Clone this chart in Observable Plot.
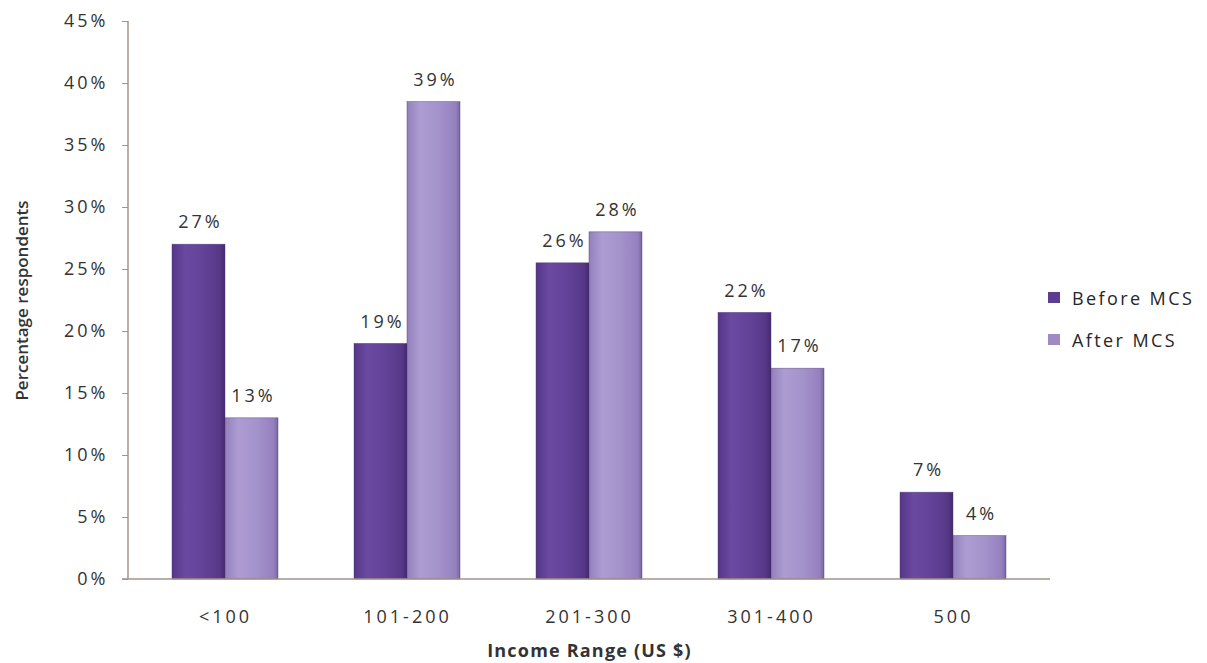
<!DOCTYPE html>
<html>
<head>
<meta charset="utf-8">
<script src="https://cdn.jsdelivr.net/npm/d3@7"></script>
<script src="https://cdn.jsdelivr.net/npm/@observablehq/plot@0.6"></script>
<style>
  body { margin: 0; background: #fff; }
  #wrap { position: relative; width: 1207px; height: 663px; font-family: "Open Sans", sans-serif; }
  #wrap svg text { letter-spacing: 3px; }
  g[aria-label="y-axis label"] text { font-weight: 600; letter-spacing: 0px !important; font-size: 17px; }
  g[aria-label="fx-axis label"] text { font-weight: 700; letter-spacing: 1.2px !important; font-size: 18px; }
  #legend { position: absolute; left: 1048px; top: 284px; font-size: 18px; color: #262626; letter-spacing: 2.4px; }
  #legend .row { display: flex; align-items: center; height: 27px; margin-bottom: 15px; }
  #legend .sw { width: 12px; height: 11px; margin-right: 12px; }
</style>
</head>
<body>
<div id="wrap"><div id="legend"></div></div>
<script>
const categories = ["<100", "101-200", "201-300", "301-400", "500"];
const seriesNames = ["Before MCS", "After MCS"];
const beforeValues = [27, 19, 25.5, 21.5, 7];
const afterValues = [13, 38.5, 28, 17, 3.5];
const yTicks = [0, 5, 10, 15, 20, 25, 30, 35, 40, 45];
const swatchColors = ["#5c3d90", "#9f8ac4"];

const data = [];
categories.forEach((c, i) => {
  data.push({cat: c, series: seriesNames[0], value: beforeValues[i]});
  data.push({cat: c, series: seriesNames[1], value: afterValues[i]});
});

const marginLeft = 128, marginRight = 157, marginTop = 21, marginBottom = 84;

function build(axisShift) {
  return Plot.plot({
    width: 1207,
    height: 663,
    marginLeft, marginRight, marginTop, marginBottom,
    style: {fontFamily: "Open Sans, sans-serif", fontSize: "18px", color: "#333", background: "#fff"},
    fx: {domain: categories, paddingInner: 0.415, paddingOuter: 0.227, label: null},
    x: {domain: seriesNames, padding: 0, axis: null},
    y: {domain: [0, 45], label: null},
    color: {domain: seriesNames, range: ["url(#gradBefore)", "url(#gradAfter)"]},
    marks: [
      Plot.axisY({ticks: yTicks, tickFormat: d => d + "%", tickSize: 6, tickPadding: 14, dx: axisShift,
        stroke: "#a39389", label: "Percentage respondents", labelAnchor: "center", labelArrow: "none", labelOffset: 157, fill: "#333"}),
      Plot.axisFx({anchor: "bottom", tickSize: 0, tickPadding: 31, fill: "#333",
        label: "Income Range (US $)", labelAnchor: "center", labelArrow: "none", labelOffset: 77}),
      Plot.barY(data, {fx: "cat", x: "series", y: "value", fill: "series", stroke: "#4b3672", strokeWidth: 0.7, strokeOpacity: 0.6}),
      Plot.text(data, {fx: "cat", x: "series", y: "value", text: d => Math.round(d.value) + "%",
        dy: -22, dx: 1.5, fill: "#333", fontSize: 18})
    ]
  });
}

// first pass: find where the first facet band starts, so the y axis can sit on the plot's left edge
const probe = build(0);
const bandStart = probe.scale("fx").apply(categories[0]);
const chart = build(marginLeft - bandStart);

const svg = d3.select(chart);
const defs = svg.insert("defs", ":first-child");
function grad(id, stops) {
  const g = defs.append("linearGradient").attr("id", id).attr("x1", "0").attr("x2", "1").attr("y1", "0").attr("y2", "0");
  stops.forEach(([o, c]) => g.append("stop").attr("offset", o).attr("stop-color", c));
}
grad("gradBefore", [["0%", "#553688"], ["25%", "#6a4aa0"], ["55%", "#64449a"], ["90%", "#563888"], ["100%", "#46296f"]]);
grad("gradAfter", [["0%", "#9380bc"], ["25%", "#ad9cd2"], ["60%", "#a492cb"], ["92%", "#9580bf"], ["100%", "#7a65a2"]]);

const y = chart.scale("y");
const y0 = y.apply(0), yTop = y.apply(45);
svg.append("line").attr("x1", marginLeft).attr("x2", marginLeft).attr("y1", yTop).attr("y2", y0)
  .attr("stroke", "#a39389").attr("stroke-width", 1.5);
svg.append("line").attr("x1", marginLeft - 6).attr("x2", 1207 - marginRight).attr("y1", y0).attr("y2", y0)
  .attr("stroke", "#a39389").attr("stroke-width", 1.5);

document.getElementById("wrap").appendChild(chart);

const legend = d3.select("#legend");
seriesNames.forEach((s, i) => {
  const row = legend.append("div").attr("class", "row");
  row.append("div").attr("class", "sw").style("background", swatchColors[i]);
  row.append("span").text(s);
});
</script>
</body>
</html>
